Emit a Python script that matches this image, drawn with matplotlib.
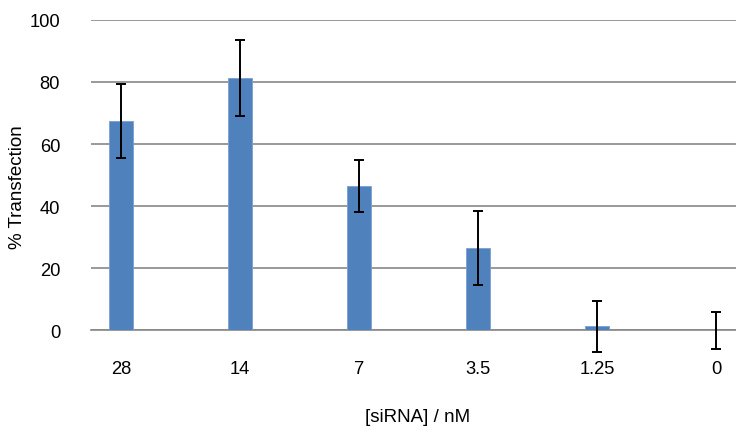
import numpy as np
import matplotlib.pyplot as plt

# [siRNA] in nM and transfection results
concentrations = ["28", "14", "7", "3.5", "1.25", "0"]
transfection = [67.4, 81.2, 46.6, 26.5, 1.3, 0.0]
errors = [11.9, 12.3, 8.4, 12.0, 8.2, 5.9]

plt.rcParams['font.family'] = ['Liberation Sans', 'DejaVu Sans']

fig = plt.figure(figsize=(7.36, 4.27), dpi=100)
ax = fig.add_axes([0.1232, 0.2237, 0.8768, 0.7278])

x = np.arange(len(concentrations))
ax.bar(x, transfection, width=0.196, color='#4F81BD', edgecolor='#7A9FD0',
       linewidth=0.6, zorder=3)
eb = ax.errorbar(x, transfection, yerr=errors, fmt='none', ecolor='black',
                 elinewidth=1.4, capsize=3.3, capthick=1.4, zorder=4)
for artist in eb.lines[1] + eb.lines[2]:
    artist.set_clip_on(False)

ax.set_ylim(0, 100)
ax.set_xlim(-0.255, 5.168)
ax.set_yticks(np.arange(0, 101, 20))
ax.set_xticks(x)
ax.set_xticklabels(concentrations)
ax.yaxis.grid(True, color='#878787', linewidth=1.2, zorder=0)
ax.set_axisbelow(True)
for s in ax.spines.values():
    s.set_visible(False)
ax.tick_params(axis='both', length=0, labelsize=13.2)
ax.tick_params(axis='y', pad=22)
ax.tick_params(axis='x', pad=21)
# gridline at 0 sits on the axes edge: redraw it unclipped
ax.axhline(0, color='#878787', linewidth=1.2, zorder=1, clip_on=False)

fig.text(418 / 736, 1 - 418 / 427, "[siRNA] / nM", fontsize=13.5,
         ha='center', va='center')
fig.text(17.5 / 736, 1 - 187 / 427, "% Transfection", fontsize=13.5,
         ha='center', va='center', rotation=90)

fig.savefig("out.png", dpi=100)
